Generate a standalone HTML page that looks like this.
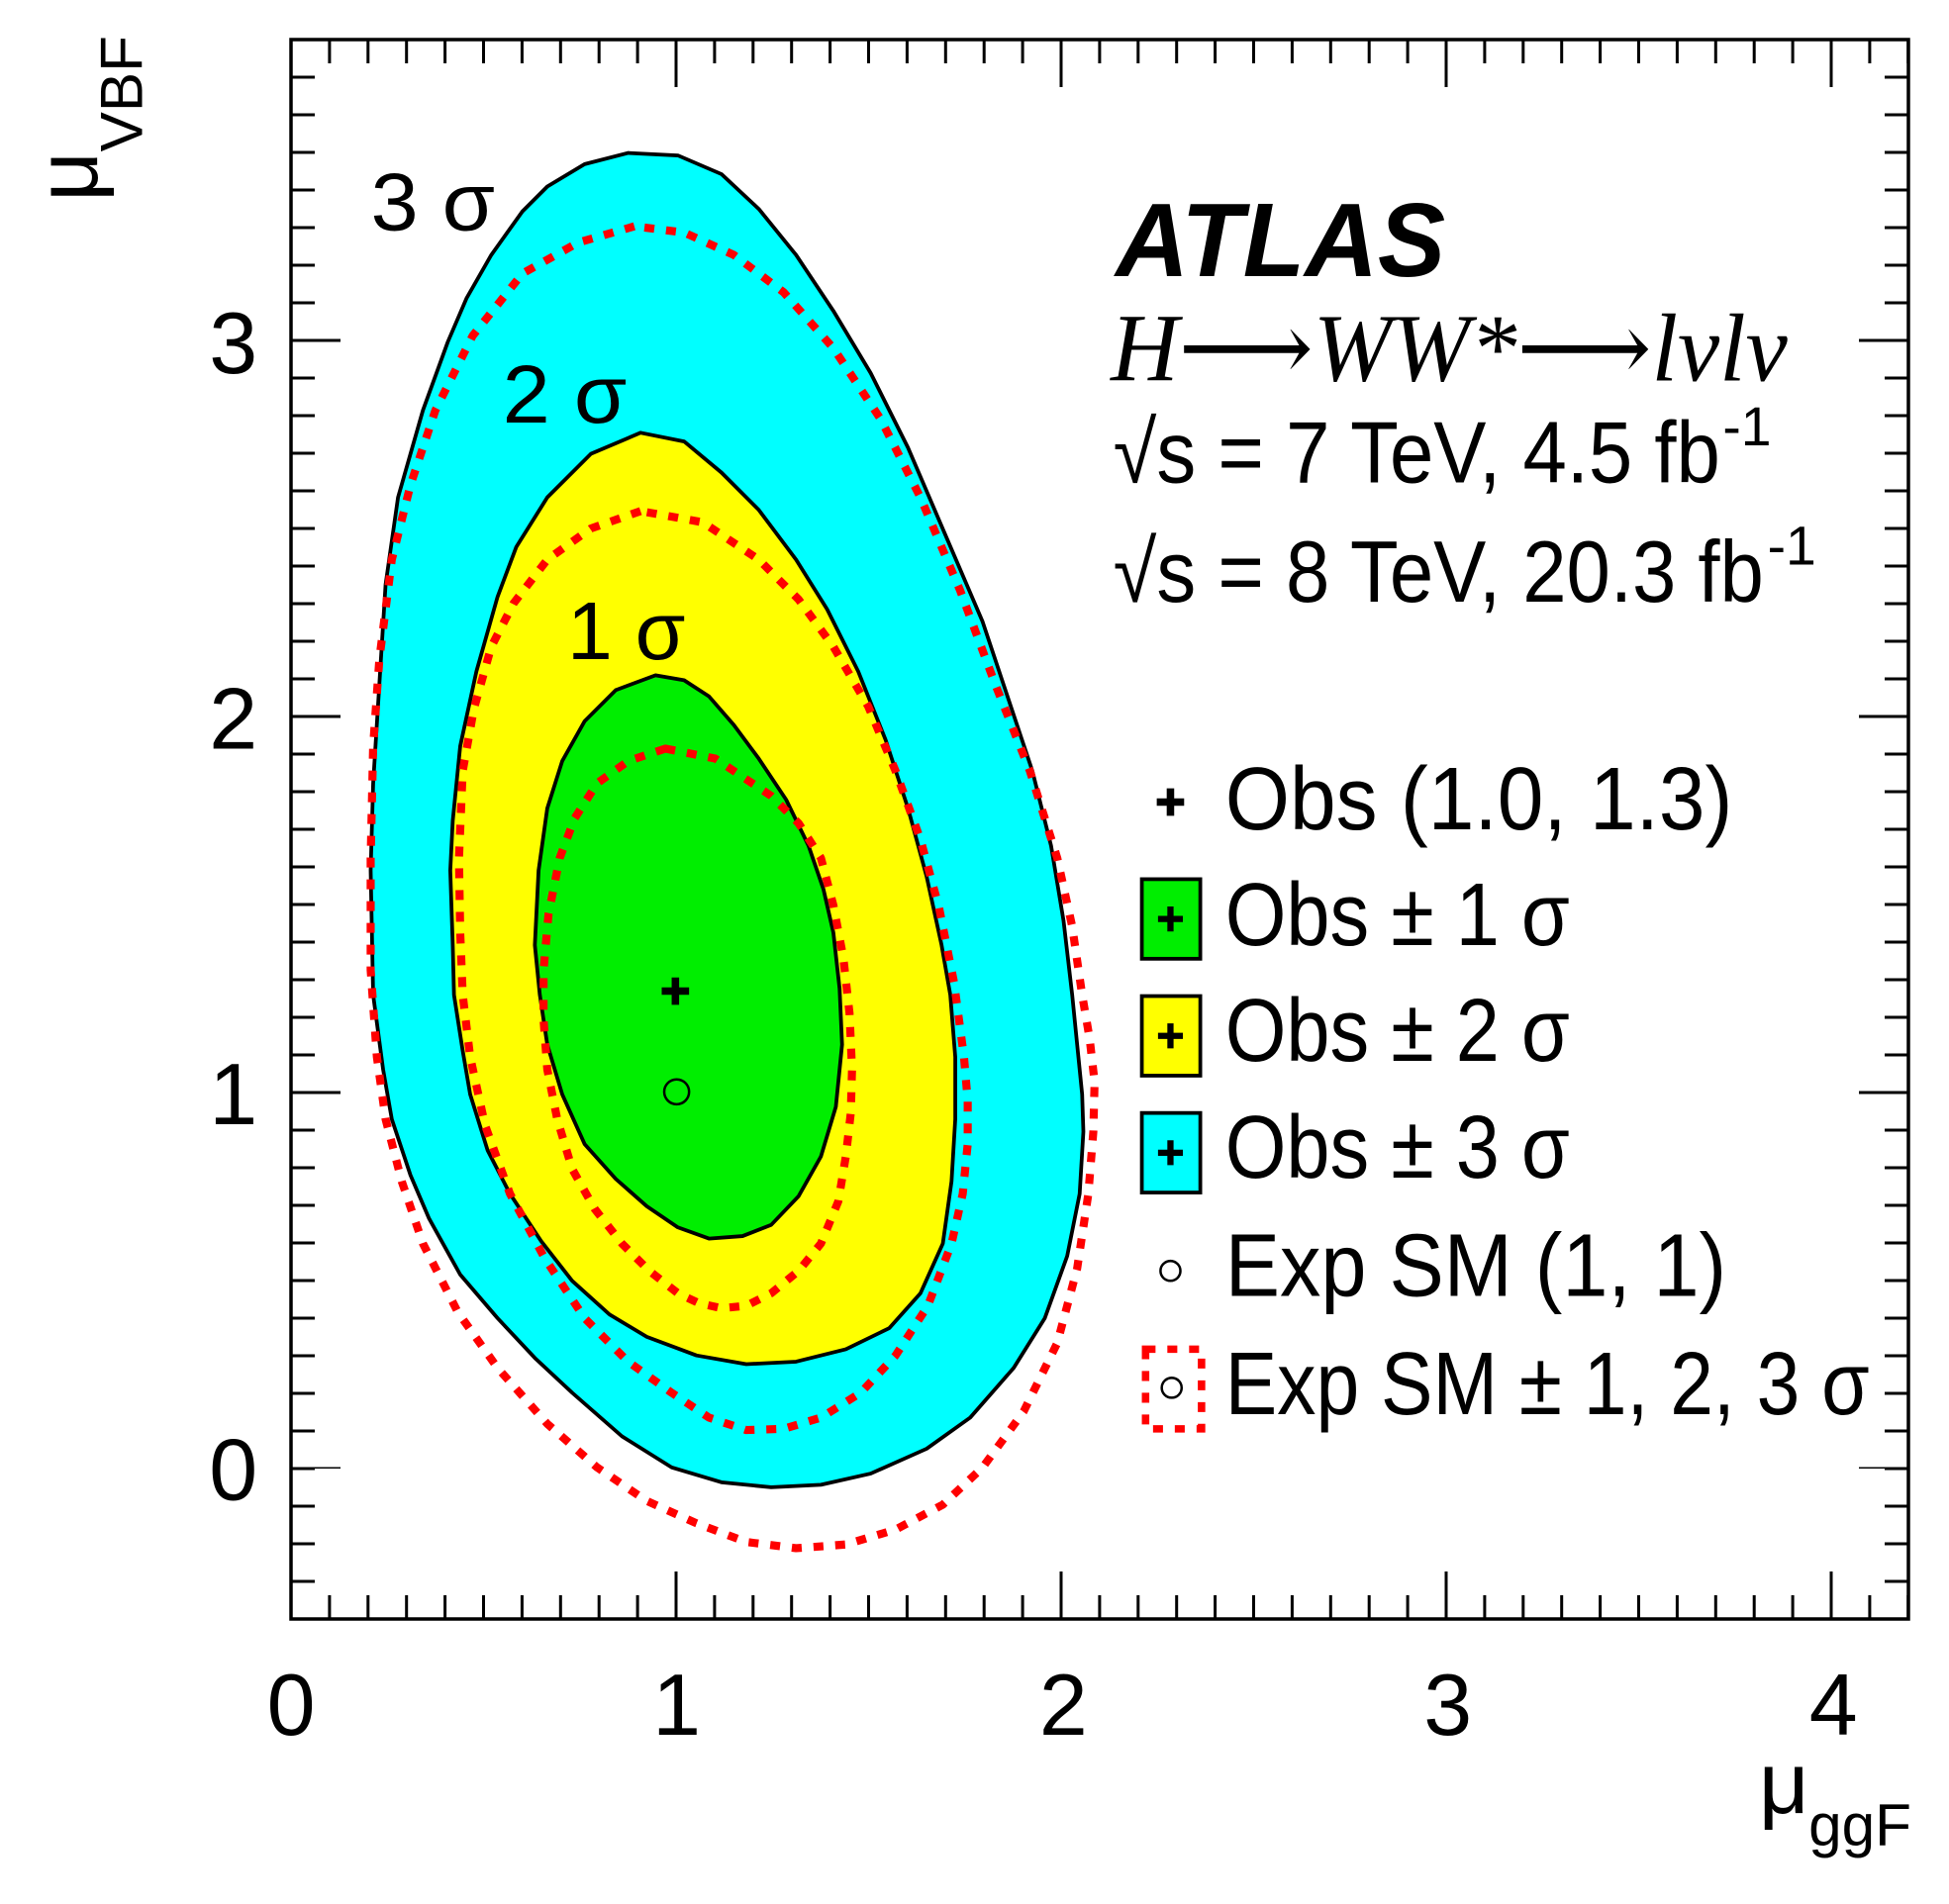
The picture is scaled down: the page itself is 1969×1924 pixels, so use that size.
<!DOCTYPE html>
<html><head><meta charset="utf-8"><style>
html,body{margin:0;padding:0;background:#fff;}
svg{display:block;}
text{font-family:"Liberation Sans",sans-serif;fill:#000;}
</style></head><body>
<svg width="1969" height="1924" viewBox="0 0 1969 1924" xmlns="http://www.w3.org/2000/svg">
<rect width="1969" height="1924" fill="#fff"/>
<g transform="scale(1.2566)">
<!-- 3 sigma -->
<polygon fill="#00ffff" stroke="#000" stroke-width="3" stroke-linejoin="round" points="505,123 470,132 440,150 420,170 395,205 375,240 360,275 340,330 320,400 310,470 305,550 300,630 298,700 300,800 308,860 315,900 330,945 345,980 370,1025 400,1060 430,1092 460,1120 500,1155 540,1180 580,1192 620,1196 660,1194 700,1185 745,1165 780,1140 815,1100 840,1060 858,1010 868,960 871,910 870,880 866,840 862,800 855,740 845,680 830,620 810,560 790,500 760,430 730,360 700,300 670,250 640,205 610,168 580,140 545,125"/>
<!-- 2 sigma -->
<polygon fill="#ffff00" stroke="#000" stroke-width="3" stroke-linejoin="round" points="515,348 475,365 440,400 415,440 400,480 383,540 370,600 364,660 362,700 364,760 365,800 372,845 378,880 392,925 410,960 435,998 460,1030 490,1057 520,1075 560,1090 600,1097 640,1095 680,1085 715,1068 740,1040 758,1000 765,950 768,900 768,850 764,800 757,760 745,705 730,650 712,595 690,540 665,490 640,450 610,410 580,380 550,355"/>
<!-- 1 sigma -->
<polygon fill="#00ee00" stroke="#000" stroke-width="3" stroke-linejoin="round" points="527,543 495,555 470,580 452,612 440,650 433,700 430,760 434,800 440,840 452,880 470,920 495,948 520,970 545,987 570,996 597,994 620,985 642,962 660,930 672,890 677,840 675,795 670,750 662,715 650,680 632,643 610,610 590,583 570,560 550,547"/>
<!-- expected dotted -->
<g fill="none" stroke="#ff0000" stroke-width="6.5" stroke-dasharray="8 9.5" stroke-linejoin="round">
<polygon points="510,182 465,195 420,220 380,270 350,330 330,390 315,450 305,530 300,600 298,690 298,780 303,850 310,900 323,950 340,1000 368,1055 400,1100 440,1145 480,1180 520,1207 560,1225 600,1240 640,1245 680,1242 720,1230 758,1210 790,1180 823,1135 850,1080 866,1020 875,960 879,910 880,870 876,835 870,800 862,745 850,690 828,620 800,550 772,475 740,400 708,337 670,280 630,235 590,205 550,187"/>
<polygon points="515,411 475,425 440,450 413,485 395,520 381,570 372,620 369,690 370,750 372,800 378,850 390,905 410,960 438,1012 470,1060 505,1095 540,1120 570,1140 600,1150 630,1149 660,1140 692,1120 720,1090 746,1050 765,1000 774,960 778,920 778,885 775,850 767,790 755,730 740,675 720,620 698,568 670,520 642,482 610,450 565,420"/>
<polygon points="535,602 505,612 480,630 462,658 450,690 441,735 437,780 437,820 440,860 448,900 460,940 478,972 500,1000 522,1022 545,1040 562,1048 580,1052 600,1050 620,1040 642,1022 660,1000 674,966 680,930 684,895 685,860 683,815 678,770 670,728 660,690 642,662 620,640 575,610"/>
</g>
<!-- markers -->
<path d="M543,786 V808 M532,797 H554" stroke="#000" stroke-width="6"/>
<circle cx="544" cy="878" r="10" fill="none" stroke="#000" stroke-width="2"/>
<!-- contour labels -->
<text x="298" y="185" font-size="66" textLength="100" lengthAdjust="spacingAndGlyphs">3 σ</text>
<text x="404" y="340" font-size="66" textLength="100" lengthAdjust="spacingAndGlyphs">2 σ</text>
<text x="456" y="530" font-size="66" textLength="95" lengthAdjust="spacingAndGlyphs">1 σ</text>
<!-- ATLAS block -->
<text x="897" y="222" font-size="84" font-weight="bold" font-style="italic" textLength="265" lengthAdjust="spacingAndGlyphs">ATLAS</text>
<text x="893" y="306" font-size="78" font-style="italic" style="font-family:'Liberation Serif','DejaVu Serif',serif" textLength="544" lengthAdjust="spacingAndGlyphs">H⟶WW*⟶lνlν</text>
<text x="895" y="388" font-size="70" textLength="488" lengthAdjust="spacingAndGlyphs">√s = 7 TeV, 4.5 fb</text>
<text x="1385" y="358" font-size="44">-1</text>
<text x="895" y="484" font-size="70" textLength="523" lengthAdjust="spacingAndGlyphs">√s = 8 TeV, 20.3 fb</text>
<text x="1421" y="454" font-size="44">-1</text>
<!-- legend -->
<path d="M941,634 V656 M930,645 H952" stroke="#000" stroke-width="6"/>
<text x="985" y="667" font-size="72" textLength="408" lengthAdjust="spacingAndGlyphs">Obs (1.0, 1.3)</text>
<rect x="918" y="707" width="47" height="64" fill="#00ee00" stroke="#000" stroke-width="3"/>
<path d="M941,729 V749 M931,739 H951" stroke="#000" stroke-width="5"/>
<text x="985" y="760" font-size="72" textLength="277" lengthAdjust="spacingAndGlyphs">Obs ± 1 σ</text>
<rect x="918" y="801" width="47" height="64" fill="#ffff00" stroke="#000" stroke-width="3"/>
<path d="M941,823 V843 M931,833 H951" stroke="#000" stroke-width="5"/>
<text x="985" y="853" font-size="72" textLength="277" lengthAdjust="spacingAndGlyphs">Obs ± 2 σ</text>
<rect x="918" y="895" width="47" height="64" fill="#00ffff" stroke="#000" stroke-width="3"/>
<path d="M941,917 V937 M931,927 H951" stroke="#000" stroke-width="5"/>
<text x="985" y="947" font-size="72" textLength="277" lengthAdjust="spacingAndGlyphs">Obs ± 3 σ</text>
<circle cx="941" cy="1022" r="8" fill="none" stroke="#000" stroke-width="2"/>
<text x="985" y="1042" font-size="72" textLength="403" lengthAdjust="spacingAndGlyphs">Exp SM (1, 1)</text>
<rect x="921" y="1085" width="45" height="64" fill="none" stroke="#ff0000" stroke-width="6" stroke-dasharray="8 9.5"/>
<circle cx="942" cy="1116" r="8" fill="none" stroke="#000" stroke-width="2"/>
<text x="985" y="1137" font-size="72" textLength="518" lengthAdjust="spacingAndGlyphs">Exp SM ± 1, 2, 3 σ</text>
<!-- tick labels -->
<g font-size="70" text-anchor="middle">
<text x="234" y="1395">0</text><text x="544" y="1395">1</text><text x="855" y="1395">2</text><text x="1164" y="1395">3</text><text x="1474" y="1395">4</text>
</g>
<g font-size="70" text-anchor="end">
<text x="207" y="1206">0</text><text x="207" y="904">1</text><text x="207" y="602">2</text><text x="207" y="300">3</text>
</g>
<text x="1414" y="1458" font-size="70">μ</text>
<text x="1454" y="1484" font-size="48">ggF</text>
<g transform="translate(78,162) rotate(-90)">
<text x="0" y="0" font-size="70">μ</text>
<text x="40" y="36" font-size="48">VBF</text>
</g>
</g>
<!-- ticks in full px -->
<g stroke="#000" fill="none">
<line x1="294" y1="1624" x2="1928" y2="1624" stroke-width="24" stroke-dasharray="3 35.9" stroke-dashoffset="1.5"/>
<line x1="294" y1="1612" x2="1928" y2="1612" stroke-width="48" stroke-dasharray="3 386" stroke-dashoffset="1.5"/>
<line x1="294" y1="52" x2="1928" y2="52" stroke-width="24" stroke-dasharray="3 35.9" stroke-dashoffset="1.5"/>
<line x1="294" y1="64" x2="1928" y2="64" stroke-width="48" stroke-dasharray="3 386" stroke-dashoffset="1.5"/>
<line x1="306" y1="1636" x2="306" y2="40" stroke-width="24" stroke-dasharray="3 35" stroke-dashoffset="1.5"/>
<line x1="319" y1="1484" x2="319" y2="40" stroke-width="50" stroke-dasharray="3 377" stroke-dashoffset="1.5"/>
<line x1="1916" y1="1636" x2="1916" y2="40" stroke-width="24" stroke-dasharray="3 35" stroke-dashoffset="1.5"/>
<line x1="1903" y1="1484" x2="1903" y2="40" stroke-width="50" stroke-dasharray="3 377" stroke-dashoffset="1.5"/>
<rect x="294" y="40" width="1634" height="1596" stroke-width="3.5"/>
</g>
</svg>
</body></html>
